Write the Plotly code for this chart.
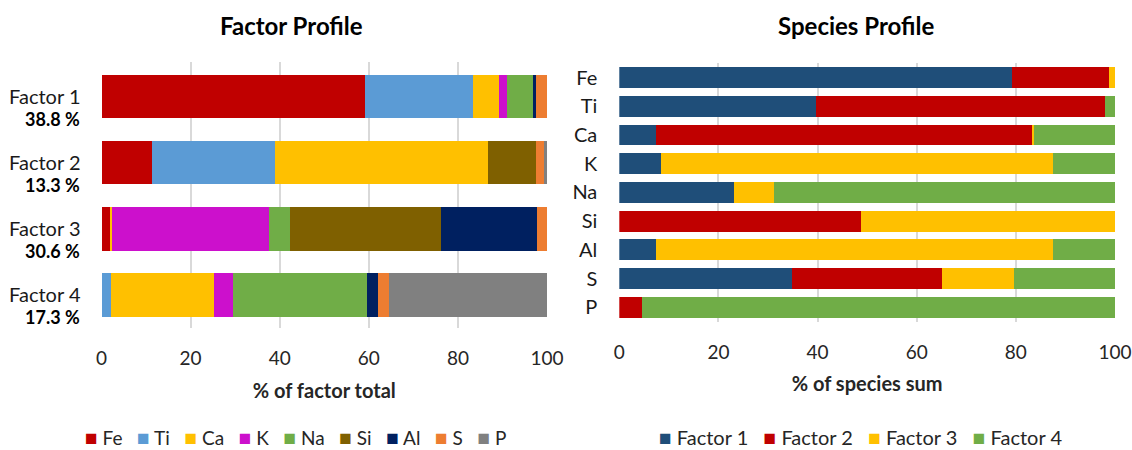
import plotly.graph_objects as go

# ---------------- data ----------------
factors = ["Factor 1", "Factor 2", "Factor 3", "Factor 4"]
factor_share = ["38.8 %", "13.3 %", "30.6 %", "17.3 %"]
species = ["Fe", "Ti", "Ca", "K", "Na", "Si", "Al", "S", "P"]

# Factor profile: % of factor total, per species (order of factors)
fp_Fe = [59.2, 11.3, 1.9, 0.0]
fp_Ti = [24.1, 27.7, 0.0, 2.1]
fp_Ca = [6.0, 47.7, 0.4, 23.1]
fp_K = [1.7, 0.0, 35.4, 4.3]
fp_Na = [5.8, 0.0, 4.6, 30.0]
fp_Si = [0.0, 10.9, 33.9, 0.0]
fp_Al = [0.7, 0.0, 21.6, 2.5]
fp_S = [2.5, 1.8, 2.3, 2.6]
fp_P = [0.0, 0.6, 0.0, 35.4]
factor_profile = [fp_Fe, fp_Ti, fp_Ca, fp_K, fp_Na, fp_Si, fp_Al, fp_S, fp_P]

# Species profile: % of species sum, per factor (order of species)
sp_F1 = [79.2, 39.6, 7.4, 8.5, 23.1, 0.0, 7.4, 34.8, 0.0]
sp_F2 = [19.6, 58.3, 76.0, 0.0, 0.0, 48.7, 0.0, 30.3, 4.5]
sp_F3 = [1.2, 0.0, 0.2, 79.0, 8.1, 51.3, 80.0, 14.5, 0.0]
sp_F4 = [0.0, 2.1, 16.4, 12.5, 68.8, 0.0, 12.6, 20.4, 95.5]
species_profile = [sp_F1, sp_F2, sp_F3, sp_F4]

species_colors = ["#C00000", "#5B9BD5", "#FFC000", "#CC10CC", "#70AD47",
                  "#7F6000", "#002060", "#ED7D31", "#808080"]
factor_colors = ["#1F4E79", "#C00000", "#FFC000", "#70AD47"]

FONT = "Lato"
TXT = "#262626"
W, H = 1132, 450

fig = go.Figure()

for name, vals, col in zip(species, factor_profile, species_colors):
    fig.add_trace(go.Bar(
        x=vals, y=factors, orientation="h", name=name, width=0.66,
        marker=dict(color=col, line=dict(width=0)),
        xaxis="x", yaxis="y", showlegend=False,
    ))

for name, vals, col in zip(factors, species_profile, factor_colors):
    fig.add_trace(go.Bar(
        x=vals, y=species, orientation="h", name=name, width=0.73,
        marker=dict(color=col, line=dict(width=0)),
        xaxis="x2", yaxis="y2", showlegend=False,
    ))

xcommon = dict(range=[0, 100], tickvals=[0, 20, 40, 60, 80, 100],
               showgrid=True, gridcolor="#D9D9D9", gridwidth=1.5,
               zeroline=False, showline=False, ticks="",
               ticklabelstandoff=17, automargin=False,
               tickfont=dict(family=FONT, size=19, color=TXT),
               fixedrange=True)

# compact legends (coloured square + name), built from the data lists
def legend_text(names, colors, gap):
    parts = []
    for n, c in zip(names, colors):
        parts.append(f"<span style='color:{c};font-size:21px'>■</span>&nbsp;{n}")
    return gap.join(parts)

annotations = [
    dict(text="<b>Factor Profile</b>", x=291 / W, y=1 - 25 / H,
         xref="paper", yref="paper", showarrow=False,
         xanchor="center", yanchor="middle",
         font=dict(family=FONT, size=24, color="#000000")),
    dict(text="<b>Species Profile</b>", x=856 / W, y=1 - 25 / H,
         xref="paper", yref="paper", showarrow=False,
         xanchor="center", yanchor="middle",
         font=dict(family=FONT, size=24, color="#000000")),
    dict(text=legend_text(species, species_colors, "&nbsp;&nbsp;&nbsp;"),
         x=295 / W, y=1 - 436 / H,
         xref="paper", yref="paper", showarrow=False, xanchor="center",
         yanchor="middle", font=dict(family=FONT, size=19, color=TXT)),
    dict(text=legend_text(factors, factor_colors, "&nbsp;&nbsp;&nbsp;"),
         x=860 / W, y=1 - 436 / H,
         xref="paper", yref="paper", showarrow=False, xanchor="center",
         yanchor="middle", font=dict(family=FONT, size=20, color=TXT)),
]
for f, s in zip(factors, factor_share):
    annotations.append(dict(
        text=f"<b>{s}</b>", x=82 / W, y=f, xref="paper", yref="y",
        xanchor="right", yanchor="middle", yshift=-22, showarrow=False,
        font=dict(family=FONT, size=18, color="#000000")))

fig.update_layout(
    width=W, height=H,
    margin=dict(l=0, r=0, t=0, b=0),
    paper_bgcolor="white", plot_bgcolor="white",
    barmode="stack",
    font=dict(family=FONT, color=TXT),
    showlegend=False,
    xaxis=dict(domain=[101.5 / W, 547 / W], anchor="y",
               title=dict(text="<b>% of factor total</b>",
                          font=dict(family=FONT, size=20, color=TXT),
                          standoff=15),
               **xcommon),
    yaxis=dict(domain=[1 - 328 / H, 1 - 61.5 / H], anchor="x",
               autorange="reversed", showgrid=False, showline=False,
               ticks="", ticklabelstandoff=20, automargin=False,
               tickfont=dict(family=FONT, size=20, color="#1a1a1a"),
               fixedrange=True),
    xaxis2=dict(domain=[619.3 / W, 1115 / W], anchor="y2",
                title=dict(text="<b>% of species sum</b>",
                           font=dict(family=FONT, size=20, color=TXT),
                           standoff=15),
                **xcommon),
    yaxis2=dict(domain=[1 - 321.7 / H, 1 - 63.2 / H], anchor="x2",
                autorange="reversed", showgrid=False, showline=False,
                ticks="", ticklabelstandoff=21, automargin=False,
                tickfont=dict(family=FONT, size=20, color="#1a1a1a"),
                fixedrange=True),
    annotations=annotations,
)

fig.write_html("out.html",
               config={"displayModeBar": False},
               post_script="document.body.style.margin='0px';"
                           "document.body.style.overflow='hidden';")
